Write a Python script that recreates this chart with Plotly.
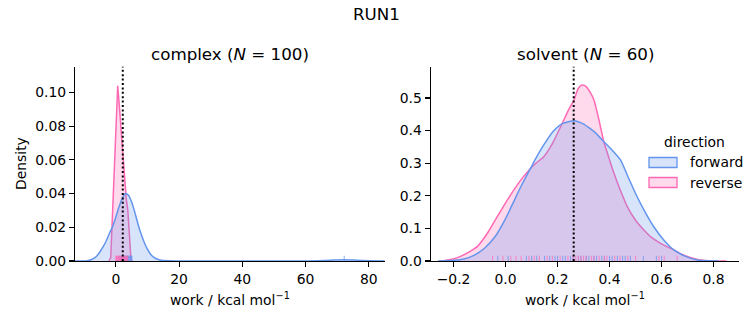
import plotly.graph_objects as go

# ---------------- data ----------------
# complex panel: KDE curves
complex_fwd_x = [-13, -10, -9, -8, -7, -6, -5, -4, -3, -2, -1, 0, 1, 2, 3, 4, 5, 6, 7, 8, 9, 10, 11, 12, 14, 17, 20,
                 60, 64, 68, 72, 76, 80, 85]
complex_fwd_y = [0, 0.00005, 0.0002, 0.0006, 0.0015, 0.003, 0.0055, 0.0085, 0.012, 0.0165, 0.0205, 0.026, 0.032,
                 0.037, 0.040, 0.039, 0.035, 0.029, 0.022, 0.016, 0.011, 0.007, 0.004, 0.0022, 0.0006, 0.0001, 0,
                 0, 0.0002, 0.0005, 0.0007, 0.0005, 0.0002, 0.00005]
complex_rev_x = [-2.2, -1.6, -1.0, -0.4, 0.2, 0.6, 1.0, 1.5, 1.9, 2.6, 3.3, 3.8, 4.2, 4.5, 4.8, 5.2]
complex_rev_y = [0, 0.002, 0.03, 0.06, 0.09, 0.104, 0.095, 0.082, 0.071, 0.052, 0.037, 0.030, 0.018, 0.007, 0.001, 0]

# solvent panel: KDE curves
solvent_fwd_x = [-0.26, -0.2, -0.16, -0.12, -0.08, -0.04, 0.0, 0.03, 0.06, 0.096, 0.12, 0.15, 0.186, 0.22, 0.263,
                 0.30, 0.327, 0.35, 0.378, 0.41, 0.442, 0.47, 0.506, 0.54, 0.57, 0.61, 0.647, 0.69, 0.737, 0.78, 0.82]
solvent_fwd_y = [0, 0.002, 0.006, 0.018, 0.04, 0.075, 0.13, 0.18, 0.23, 0.284, 0.32, 0.36, 0.40, 0.422, 0.430,
                 0.42, 0.405, 0.39, 0.366, 0.34, 0.31, 0.26, 0.197, 0.145, 0.105, 0.063, 0.034, 0.015, 0.003, 0.0005, 0]
solvent_rev_x = [-0.25, -0.224, -0.18, -0.14, -0.109, -0.07, -0.032, 0.0, 0.032, 0.065, 0.096, 0.12, 0.147, 0.18,
                 0.212, 0.24, 0.263, 0.28, 0.295, 0.31, 0.325, 0.34, 0.36, 0.378, 0.40, 0.417, 0.44, 0.468, 0.50,
                 0.532, 0.56, 0.596, 0.62, 0.647, 0.68, 0.724, 0.76, 0.8, 0.85]
solvent_rev_y = [0, 0.003, 0.012, 0.028, 0.044, 0.085, 0.136, 0.178, 0.218, 0.255, 0.284, 0.302, 0.32, 0.36,
                 0.412, 0.46, 0.494, 0.53, 0.54, 0.535, 0.518, 0.494, 0.43, 0.366, 0.31, 0.269, 0.22, 0.167, 0.125,
                 0.095, 0.073, 0.054, 0.044, 0.034, 0.02, 0.008, 0.002, 0, 0]

# rug samples
complex_fwd_rug = [0.9, 1.4, 1.8, 2.1, 2.4, 2.7, 2.9, 3.1, 3.3, 3.5, 3.7, 3.9, 4.1, 4.3, 4.5, 4.7, 4.9, 5.1, 72.2]
complex_rev_rug = [0.0, 0.2, 0.4, 0.6, 0.8, 1.0, 1.2, 1.4, 1.6, 1.8, 2.0, 2.2, 2.4, 2.6, 2.8, 3.0, 3.2, 3.4, 3.6, 3.8]
solvent_fwd_rug = [-0.03, 0.01, 0.08, 0.10, 0.12, 0.15, 0.17, 0.19, 0.20, 0.22, 0.23, 0.25, 0.26, 0.28, 0.29,
                   0.31, 0.32, 0.34, 0.35, 0.37, 0.38, 0.40, 0.41, 0.43, 0.45, 0.46, 0.48, 0.53, 0.58, 0.60]
solvent_rev_rug = [-0.05, -0.01, 0.02, 0.04, 0.06, 0.09, 0.11, 0.13, 0.16, 0.18, 0.21, 0.24, 0.26, 0.27, 0.28,
                   0.29, 0.30, 0.31, 0.33, 0.34, 0.36, 0.38, 0.39, 0.42, 0.44, 0.47, 0.50, 0.59, 0.61, 0.66]

# dotted reference lines (one per panel)
mean_work = [2.2, 0.262]

panel_titles = ["complex (<i>N</i> = 100)", "solvent (<i>N</i> = 60)"]
x_ticks = [[0, 20, 40, 60, 80], [-0.2, 0.0, 0.2, 0.4, 0.6, 0.8]]
x_ticktext = [["0", "20", "40", "60", "80"], ["−0.2", "0.0", "0.2", "0.4", "0.6", "0.8"]]
y_ticks = [[0, 0.02, 0.04, 0.06, 0.08, 0.10], [0, 0.1, 0.2, 0.3, 0.4, 0.5]]
y_ticktext = [["0.00", "0.02", "0.04", "0.06", "0.08", "0.10"], ["0.0", "0.1", "0.2", "0.3", "0.4", "0.5"]]
x_ranges = [[-12.9, 85.1], [-0.288, 0.899]]
y_ranges = [[0, 0.1153], [0, 0.596]]

# ---------------- styling ----------------
W, H = 753, 325
FONT = "DejaVu Sans"
BLUE = "rgb(100,149,237)"
PINK = "rgb(255,105,180)"
BLUE_F = "rgba(100,149,237,0.25)"
PINK_F = "rgba(255,105,180,0.25)"
BLUE_R = "rgba(100,149,237,0.75)"
PINK_R = "rgba(255,105,180,0.75)"

fig = go.Figure()

curves = [
    (complex_rev_x, complex_rev_y, PINK, PINK_F, "x", "y", "linear"),
    (complex_fwd_x, complex_fwd_y, BLUE, BLUE_F, "x", "y", "spline"),
    (solvent_rev_x, solvent_rev_y, PINK, PINK_F, "x2", "y2", "spline"),
    (solvent_fwd_x, solvent_fwd_y, BLUE, BLUE_F, "x2", "y2", "spline"),
]
for xs, ys, lc, fc, xa, ya, shape in curves:
    fig.add_trace(go.Scatter(x=xs, y=ys, mode="lines", fill="tozeroy", fillcolor=fc,
                             line=dict(color=lc, width=1.5, shape=shape, smoothing=0.6),
                             xaxis=xa, yaxis=ya, showlegend=False, hoverinfo="skip"))


def rug(vals, color, xa, ya, ymax):
    xs, ys = [], []
    h = 0.027 * ymax
    for v in vals:
        xs += [v, v, None]
        ys += [0, h, None]
    return go.Scatter(x=xs, y=ys, mode="lines", line=dict(color=color, width=1),
                      xaxis=xa, yaxis=ya, showlegend=False, hoverinfo="skip")


fig.add_trace(rug(complex_fwd_rug, BLUE_R, "x", "y", y_ranges[0][1]))
fig.add_trace(rug(complex_rev_rug, PINK_R, "x", "y", y_ranges[0][1]))
fig.add_trace(rug(solvent_fwd_rug, BLUE_R, "x2", "y2", y_ranges[1][1]))
fig.add_trace(rug(solvent_rev_rug, PINK_R, "x2", "y2", y_ranges[1][1]))

# dotted vertical lines
for i, xa in enumerate(["x", "x2"]):
    fig.add_shape(type="line", xref=xa, yref=("y" if i == 0 else "y2") + " domain",
                  x0=mean_work[i], x1=mean_work[i], y0=0, y1=1,
                  line=dict(color="black", width=2, dash="2px,2.4px"))

ydom = [1 - 261 / H, 1 - 66.7 / H]
xdoms = [[75 / W, 385 / W], [430.7 / W, 739.3 / W]]

axis_common = dict(showgrid=False, zeroline=False, showline=True, linecolor="black", linewidth=1.1,
                   ticks="outside", ticklen=5, tickwidth=1.1, tickcolor="black",
                   tickfont=dict(family=FONT, size=13.9, color="black"), automargin=False, mirror=False)

layout_axes = {}
for i in range(2):
    sx = "" if i == 0 else "2"
    layout_axes["xaxis" + sx] = dict(axis_common, domain=xdoms[i], range=x_ranges[i], tickmode="array",
                                     tickvals=x_ticks[i], ticktext=x_ticktext[i], anchor="y" + sx)
    layout_axes["yaxis" + sx] = dict(axis_common, domain=ydom, range=y_ranges[i], tickmode="array",
                                     tickvals=y_ticks[i], ticktext=y_ticktext[i], anchor="x" + sx)

annotations = [
    dict(text="RUN1", x=376.5 / W, y=1 - 14 / H, font=dict(size=16.7)),
    dict(text=panel_titles[0], x=230 / W, y=1 - 53.5 / H, font=dict(size=16.7)),
    dict(text=panel_titles[1], x=585 / W, y=1 - 53.5 / H, font=dict(size=16.7)),
    dict(text="work / kcal mol<sup>−1</sup>", x=230 / W, y=1 - 299 / H, font=dict(size=13.9)),
    dict(text="work / kcal mol<sup>−1</sup>", x=585 / W, y=1 - 299 / H, font=dict(size=13.9)),
    dict(text="Density", x=21 / W, y=1 - 164 / H, textangle=-90, font=dict(size=13.9)),
    # legend
    dict(text="direction", x=694 / W, y=1 - 142 / H, font=dict(size=13.9)),
    dict(text="forward", x=688 / W, y=1 - 162 / H, xanchor="left", font=dict(size=13.9)),
    dict(text="reverse", x=688 / W, y=1 - 182.5 / H, xanchor="left", font=dict(size=13.9)),
]
for a in annotations:
    a.setdefault("xanchor", "center")
    a.update(xref="paper", yref="paper", yanchor="middle", showarrow=False)
    a["font"] = dict(family=FONT, color="black", **a["font"])

# legend patches
for y0, lc, fc in [(157.5, BLUE, BLUE_F), (177.5, PINK, PINK_F)]:
    fig.add_shape(type="rect", xref="paper", yref="paper",
                  x0=649 / W, x1=677 / W, y0=1 - (y0 + 10) / H, y1=1 - y0 / H,
                  line=dict(color=lc, width=1.3), fillcolor=fc)

fig.update_layout(width=W, height=H, margin=dict(l=0, r=0, t=0, b=0),
                  paper_bgcolor="white", plot_bgcolor="white",
                  font=dict(family=FONT, color="black"), showlegend=False,
                  annotations=annotations, **layout_axes)

fig.write_html("out.html", config={"displayModeBar": False, "staticPlot": True})

# remove the default page margin so the figure fills the window exactly
with open("out.html", "r", encoding="utf-8") as f:
    html = f.read()
html = html.replace("<head>", "<head><style>html,body{margin:0;padding:0;overflow:hidden;}</style>", 1)
with open("out.html", "w", encoding="utf-8") as f:
    f.write(html)
